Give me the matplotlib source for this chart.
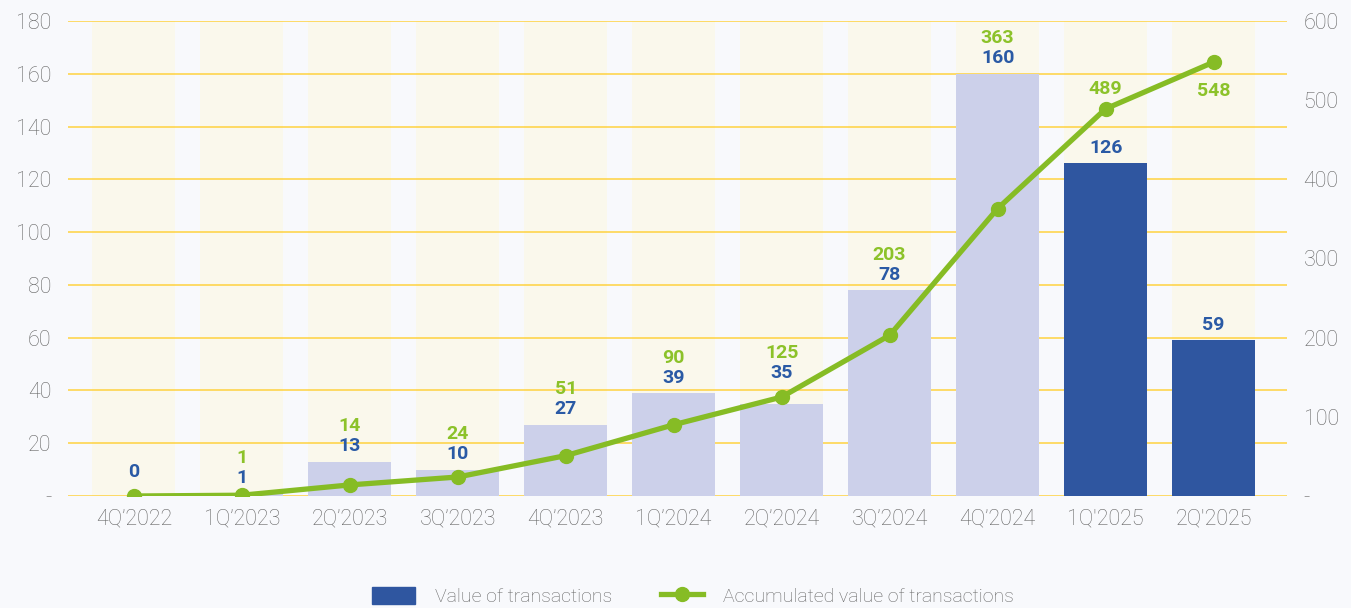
import matplotlib.pyplot as plt
import numpy as np
from matplotlib.patches import Patch
from matplotlib.lines import Line2D

plt.rcParams['font.family'] = ['Roboto', 'DejaVu Sans']

quarters = ["4Q\u20192022", "1Q\u20192023", "2Q\u20192023", "3Q\u20192023", "4Q\u20192023",
            "1Q\u20192024", "2Q\u20192024", "3Q\u20192024", "4Q\u20192024", "1Q'2025", "2Q'2025"]
value = [0, 1, 13, 10, 27, 39, 35, 78, 160, 126, 59]
accumulated = [0, 1, 14, 24, 51, 90, 125, 203, 363, 489, 548]
left_ticks = [0, 20, 40, 60, 80, 100, 120, 140, 160, 180]
right_ticks = [0, 100, 200, 300, 400, 500, 600]

bg = "#F8F9FC"
cream = "#FAF8EC"
lavender = "#CCD0EA"
dark_blue = "#2F56A0"
green = "#86BC25"
label_blue = "#2A5AA5"
label_green = "#8CC22A"
grid_col = "#FFD23F"
tick_col = "#666666"

fig = plt.figure(figsize=(13.51, 6.08), dpi=100, facecolor=bg)
ax = fig.add_axes([0.0503, 0.1842, 0.9023, 0.7813])
ax.set_facecolor(bg)
x = np.arange(len(quarters))
w = 0.77

# cream background columns
ax.bar(x, [180] * len(x), width=w, color=cream, zorder=0)
for t in left_ticks:
    ax.axhline(t, color=grid_col, lw=1.1, zorder=1)

colors = [lavender] * 9 + [dark_blue] * 2
ax.bar(x, value, width=w, color=colors, zorder=2)

ax.set_xlim(-0.61, 10.68)
ax.set_ylim(0, 180)
ax.set_yticks(left_ticks)
ax.set_yticklabels(["-"] + [str(t) for t in left_ticks[1:]])
ax.set_xticks(x)
ax.set_xticklabels(quarters)
for s in ax.spines.values():
    s.set_visible(False)
ax.tick_params(axis='both', length=0, labelsize=15.5, labelcolor=tick_col)
ax.tick_params(axis='x', pad=9)
ax.tick_params(axis='y', pad=12)
for lab in ax.get_xticklabels() + ax.get_yticklabels():
    lab.set_fontweight('light')

ax2 = ax.twinx()
ax2.set_ylim(0, 600)
ax2.set_yticks(right_ticks)
ax2.set_yticklabels(["-"] + [str(t) for t in right_ticks[1:]])
for s in ax2.spines.values():
    s.set_visible(False)
ax2.tick_params(axis='y', length=0, labelsize=15.5, labelcolor=tick_col, pad=12)
for lab in ax2.get_yticklabels():
    lab.set_fontweight('light')
ax2.plot(x, accumulated, color=green, lw=3.8, marker='o', markersize=10, zorder=3)

# value labels: above the bar, or above the line point when that is higher
for i, v in enumerate(value):
    line_left = accumulated[i] * 180 / 600
    if line_left >= v and i < 9:
        anchor, off = line_left, 17
    else:
        anchor, off = v, 11
    ax.annotate(str(v), (x[i], anchor), xytext=(0, off), textcoords='offset points',
                ha='center', va='center', fontsize=14, fontweight='bold', color=label_blue)
    if 0 < i < 9:
        ax.annotate(str(accumulated[i]), (x[i], anchor), xytext=(0, off + 14.5),
                    textcoords='offset points', ha='center', va='center',
                    fontsize=14, fontweight='bold', color=label_green)
ax2.annotate(str(accumulated[9]), (x[9], accumulated[9]), xytext=(0, 14), textcoords='offset points',
             ha='center', va='center', fontsize=14, fontweight='bold', color=label_green)
ax2.annotate(str(accumulated[10]), (x[10], accumulated[10]), xytext=(0, -21), textcoords='offset points',
             ha='center', va='center', fontsize=14, fontweight='bold', color=label_green)

handles = [Patch(color=dark_blue),
           Line2D([0], [0], color=green, lw=3.8, marker='o', markersize=10)]
leg = fig.legend(handles, ["Value of transactions", "Accumulated value of transactions"],
                 loc='center', bbox_to_anchor=(0.513, 0.019), ncol=2, frameon=False,
                 fontsize=14, handlelength=2.2, handleheight=0.95, columnspacing=2.5,
                 handletextpad=1.0)
for t in leg.get_texts():
    t.set_color(tick_col)
    t.set_fontweight('light')

fig.savefig("out.png", dpi=100, facecolor=bg)
